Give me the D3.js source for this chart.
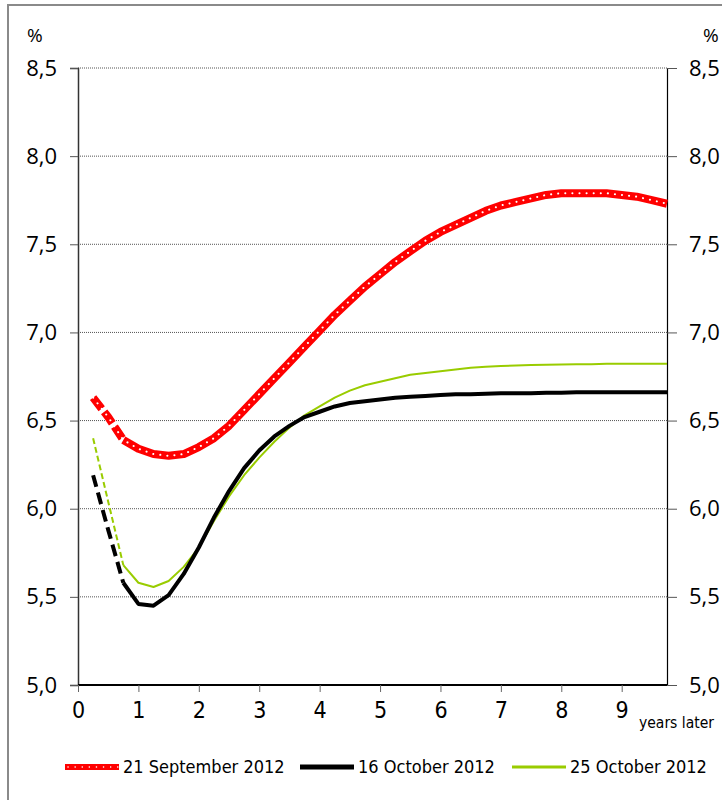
<!DOCTYPE html>
<html>
<head>
<meta charset="utf-8">
<script src="https://cdn.jsdelivr.net/npm/d3@7"></script>
<style>
  body { margin: 0; background: #fff; }
  svg text { font-family: "Liberation Sans Narrow", "DejaVu Sans Condensed", "Liberation Sans", sans-serif; fill: #000; }
</style>
</head>
<body>
<div id="chart"></div>
<script>
// quarterly horizon, years later
const years = d3.range(1, 40).map(q => q / 4);

const sep21 = [6.63, 6.52, 6.39, 6.34, 6.31, 6.30, 6.31, 6.35, 6.40, 6.47,
  6.56, 6.65, 6.74, 6.83, 6.92, 7.01, 7.10, 7.18, 7.26, 7.33,
  7.40, 7.46, 7.52, 7.57, 7.61, 7.65, 7.69, 7.72, 7.74, 7.76,
  7.78, 7.79, 7.79, 7.79, 7.79, 7.78, 7.77, 7.75, 7.73];

const oct16 = [6.19, 5.88, 5.58, 5.46, 5.45, 5.51, 5.63, 5.78, 5.95, 6.10,
  6.23, 6.33, 6.41, 6.47, 6.52, 6.55, 6.58, 6.60, 6.61, 6.62,
  6.63, 6.635, 6.64, 6.645, 6.65, 6.65, 6.652, 6.655, 6.655, 6.655,
  6.658, 6.658, 6.66, 6.66, 6.66, 6.66, 6.66, 6.66, 6.66];

const oct25 = [6.40, 6.04, 5.68, 5.58, 5.556, 5.59, 5.67, 5.78, 5.93, 6.07,
  6.19, 6.29, 6.38, 6.46, 6.53, 6.58, 6.63, 6.67, 6.70, 6.72,
  6.74, 6.76, 6.77, 6.78, 6.79, 6.80, 6.805, 6.81, 6.812, 6.815,
  6.817, 6.818, 6.82, 6.82, 6.822, 6.822, 6.823, 6.823, 6.823];

const yTicks = [5.0, 5.5, 6.0, 6.5, 7.0, 7.5, 8.0, 8.5];
const xTicks = [0, 1, 2, 3, 4, 5, 6, 7, 8, 9];
const seriesNames = ["21 September 2012", "16 October 2012", "25 October 2012"];

const W = 722, H = 800;
const margin = {top: 68, right: 55, bottom: 115, left: 78};
const width = W - margin.left - margin.right;
const height = H - margin.top - margin.bottom;

const svg = d3.select("#chart").append("svg")
  .attr("width", W)
  .attr("height", H);

// outer frame
svg.append("rect")
  .attr("x", 8).attr("y", 5)
  .attr("width", W).attr("height", H)
  .attr("fill", "none")
  .attr("stroke", "#8a8a8a")
  .attr("stroke-width", 2);

const g = svg.append("g")
  .attr("transform", "translate(" + margin.left + "," + margin.top + ")");

const x = d3.scaleLinear().domain([0, 9.75]).range([0, width]);
const y = d3.scaleLinear().domain([5, 8.5]).range([height, 0]);

const fmt = d => d.toFixed(1).replace(".", ",");

// gridlines
g.selectAll(".grid")
  .data(yTicks.filter(d => d > 5))
  .enter().append("line")
  .attr("x1", 0).attr("x2", width)
  .attr("y1", d => y(d)).attr("y2", d => y(d))
  .attr("stroke", "#555")
  .attr("stroke-width", 1)
  .attr("stroke-dasharray", "1 1");

// left axis
const left = g.append("g").call(d3.axisLeft(y).tickValues(yTicks).tickFormat(fmt).tickSize(8).tickPadding(13));
left.select(".domain").attr("stroke", "#333").attr("stroke-width", 1.5);
left.selectAll(".tick line").attr("stroke", "#555");
left.selectAll("text").style("font-family", "'Open Sans', sans-serif").style("font-size", "22px");

// right axis
const right = g.append("g")
  .attr("transform", "translate(" + width + ",0)")
  .call(d3.axisRight(y).tickValues(yTicks).tickFormat(fmt).tickSize(10).tickPadding(12));
right.select(".domain").attr("stroke", "#000").attr("stroke-width", 1.2);
right.selectAll(".tick line").attr("stroke", "#555");
right.selectAll("text").style("font-family", "'Open Sans', sans-serif").style("font-size", "22px");

// bottom axis
const bottom = g.append("g")
  .attr("transform", "translate(0," + height + ")")
  .call(d3.axisBottom(x).tickValues(xTicks).tickFormat(d3.format("d")).tickSize(7).tickPadding(10));
bottom.select(".domain").attr("d", "M0,0H" + width).attr("stroke", "#000").attr("stroke-width", 2);
bottom.selectAll(".tick line").attr("stroke", "#666");
bottom.selectAll("text").style("font-size", "23px");

g.append("text")
  .attr("x", width - 28).attr("y", height + 43)
  .style("font-family", "'DejaVu Sans Condensed', sans-serif")
  .style("font-size", "15.5px")
  .text("years later");

// % labels
svg.append("text").attr("x", 27).attr("y", 42).style("font-family", "'Open Sans', sans-serif").style("font-size", "19px").text("%");
svg.append("text").attr("x", 703).attr("y", 42).style("font-family", "'Open Sans', sans-serif").style("font-size", "19px").text("%");

const line = d3.line().x(d => x(d[0])).y(d => y(d[1]));

function drawSeries(vals, style) {
  const pts = years.map((t, i) => [t, vals[i]]);
  const head = pts.slice(0, 3);
  const tail = pts.slice(2);
  g.append("path").datum(head).attr("d", line)
    .attr("fill", "none").attr("stroke", style.color)
    .attr("stroke-width", style.width)
    .attr("stroke-dasharray", style.dash);
  g.append("path").datum(tail).attr("d", line)
    .attr("fill", "none").attr("stroke", style.color)
    .attr("stroke-width", style.width)
    .attr("stroke-linejoin", "round");
  if (style.dots) {
    g.append("path").datum(pts).attr("d", line)
      .attr("fill", "none").attr("stroke", "#fff")
      .attr("stroke-width", 2)
      .attr("stroke-linecap", "round")
      .attr("stroke-dasharray", "0.1 7");
  }
}

const styles = [
  {color: "#ff0000", width: 8, dash: "14 4", dots: true},
  {color: "#000000", width: 4, dash: "12 6", dots: false},
  {color: "#99cc00", width: 2, dash: "6 3", dots: false}
];

drawSeries(oct25, styles[2]);
drawSeries(oct16, styles[1]);
drawSeries(sep21, styles[0]);

// legend
const legendX = [65, 300, 512];
const legend = svg.append("g").attr("transform", "translate(0,767)");
seriesNames.forEach((name, i) => {
  const it = legend.append("g").attr("transform", "translate(" + legendX[i] + ",0)");
  it.append("line").attr("x1", 0).attr("x2", 54).attr("y1", 0).attr("y2", 0)
    .attr("stroke", styles[i].color).attr("stroke-width", styles[i].width === 2 ? 3 : (i === 0 ? 6 : 5));
  if (styles[i].dots) {
    it.append("line").attr("x1", 3).attr("x2", 54).attr("y1", 0).attr("y2", 0)
      .attr("stroke", "#fff").attr("stroke-width", 1.5)
      .attr("stroke-linecap", "round").attr("stroke-dasharray", "0.1 7");
  }
  it.append("text").attr("x", 58).attr("y", 6)
    .style("font-family", "'DejaVu Sans Condensed', sans-serif")
    .style("font-size", "18px")
    .text(name);
});
</script>
</body>
</html>
